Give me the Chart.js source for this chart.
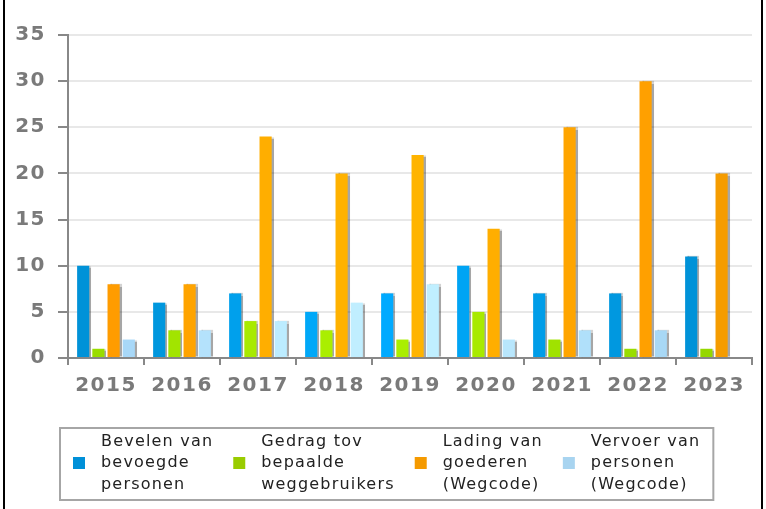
<!DOCTYPE html>
<html>
<head>
<meta charset="utf-8">
<script src="https://cdn.jsdelivr.net/npm/chart.js@4/dist/chart.umd.min.js"></script>
<style>
  html, body { margin: 0; padding: 0; background: #fff; }
  #wrap { position: relative; width: 766px; height: 509px; }
  #frame { position: absolute; left: 3px; top: 0; width: 756px; height: 509px;
           border-left: 2px solid #000; border-right: 2px solid #000; pointer-events: none; }
  canvas { display: block; }
</style>
</head>
<body>
<div id="wrap">
  <canvas id="c" width="766" height="509"></canvas>
  <div id="frame"></div>
</div>
<script>
// ---- data ----
const categories = ['2015', '2016', '2017', '2018', '2019', '2020', '2021', '2022', '2023'];
const bevelen  = [10, 6, 7, 5, 7, 10, 7, 7, 11];
const gedrag   = [1, 3, 4, 3, 2, 5, 2, 1, 1];
const lading   = [8, 8, 24, 20, 22, 14, 25, 30, 20];
const vervoer  = [2, 3, 4, 6, 8, 2, 3, 3, null];
const seriesLabels = [
  ['Bevelen van', 'bevoegde', 'personen'],
  ['Gedrag tov', 'bepaalde', 'weggebruikers'],
  ['Lading van', 'goederen', '(Wegcode)'],
  ['Vervoer van', 'personen', '(Wegcode)']
];
const yMin = 0, yMax = 35, yStep = 5;

// ---- styles ----
const blueShades   = ['#0092d8', '#0097de', '#00a0ec', '#00a8f8', '#00aaff', '#00a4f4', '#009de8', '#0098e0', '#0092d8'];
const greenShades  = ['#99dd00', '#a2e400', '#a8ea00', '#aaee00', '#aaee00', '#a8ea00', '#a0e200', '#99dd00', '#95d800'];
const orangeShades = ['#ff9c00', '#ffa400', '#ffae00', '#ffb200', '#ffb400', '#ffae00', '#ffa500', '#ffa000', '#f59c00'];
const lightShades  = ['#a8d8f8', '#b4e2fc', '#bcecff', '#c0eeff', '#c0efff', '#b8e6fc', '#b0e0fa', '#a8d8f5', '#a8d8f5'];
const legendColors = ['#0090d8', '#99cc00', '#f59a00', '#a8d4f0'];

const PLOT_LEFT = 68, PLOT_RIGHT = 752, PLOT_TOP = 35, PLOT_BOTTOM = 358;
const W = 766, H = 509;
const X_AXIS_H = 42;

const spacingPlugin = {
  id: 'letterSpacing',
  beforeDraw(chart) {
    chart.ctx.letterSpacing = '1.5px';
  }
};

const shadowPlugin = {
  id: 'barShadow',
  beforeDatasetsDraw(chart) {
    const ctx = chart.ctx;
    ctx.save();
    ctx.shadowColor = 'rgba(0,0,0,0.35)';
    ctx.shadowOffsetX = 2;
    ctx.shadowOffsetY = 0;
    ctx.shadowBlur = 1;
  },
  afterDatasetsDraw(chart) {
    chart.ctx.restore();
  }
};

const legendPlugin = {
  id: 'multiLegend',
  afterDraw(chart) {
    const ctx = chart.ctx;
    ctx.save();
    ctx.shadowColor = 'transparent';
    ctx.letterSpacing = '1.2px';
    ctx.font = '16px "DejaVu Sans", Verdana, sans-serif';
    const sw = 12, swGap = 16, itemGap = 20, padL = 13, padR = 13;
    const widths = seriesLabels.map(lines => Math.max(...lines.map(l => ctx.measureText(l).width)));
    const itemW = widths.map(w => sw + swGap + w);
    const total = padL + padR + itemW.reduce((a, b) => a + b, 0) + itemGap * (itemW.length - 1);
    const boxX = Math.round(387 - total / 2), boxY = 428, boxH = 72;
    ctx.strokeStyle = '#a6a6a6';
    ctx.lineWidth = 2;
    ctx.strokeRect(boxX, boxY, total, boxH);
    const lineH = 21.5;
    const midY = boxY + boxH / 2 - 1;
    let x = boxX + padL;
    ctx.textBaseline = 'middle';
    ctx.textAlign = 'left';
    seriesLabels.forEach((lines, i) => {
      ctx.fillStyle = legendColors[i];
      ctx.fillRect(x, midY - sw / 2, sw, sw);
      ctx.fillStyle = '#222';
      const n = lines.length;
      lines.forEach((l, j) => {
        ctx.fillText(l, x + sw + swGap, midY + (j - (n - 1) / 2) * lineH);
      });
      x += itemW[i] + itemGap;
    });
    ctx.restore();
  }
};

const tickFont = { family: '"DejaVu Sans", Verdana, sans-serif', size: 20, weight: 'bold' };

new Chart(document.getElementById('c'), {
  type: 'bar',
  data: {
    labels: categories,
    datasets: [
      { label: seriesLabels[0].join(' '), data: bevelen, backgroundColor: blueShades },
      { label: seriesLabels[1].join(' '), data: gedrag, backgroundColor: greenShades },
      { label: seriesLabels[2].join(' '), data: lading, backgroundColor: orangeShades },
      { label: seriesLabels[3].join(' '), data: vervoer, backgroundColor: lightShades }
    ]
  },
  options: {
    responsive: false,
    animation: false,
    devicePixelRatio: 1,
    layout: { padding: { top: PLOT_TOP, right: W - PLOT_RIGHT, bottom: H - PLOT_BOTTOM - X_AXIS_H, left: 0 } },
    plugins: {
      legend: { display: false },
      tooltip: { enabled: false },
      title: { display: false }
    },
    datasets: { bar: { categoryPercentage: 0.8, barPercentage: 0.8 } },
    scales: {
      x: {
        grid: { offset: true, drawOnChartArea: false, drawTicks: true, tickLength: 7, tickColor: '#888', lineWidth: 2 },
        border: { color: '#888', width: 2 },
        ticks: { color: '#7a7a7a', font: tickFont, padding: 9, maxRotation: 0, autoSkip: false },
        afterFit(scale) { scale.height = X_AXIS_H; }
      },
      y: {
        min: yMin, max: yMax,
        grid: { color: '#e8e8e8', lineWidth: 2, tickLength: 10, tickColor: '#888' },
        border: { color: '#888', width: 2 },
        ticks: { stepSize: yStep, color: '#7a7a7a', font: tickFont, padding: 12 },
        afterFit(scale) { scale.width = PLOT_LEFT; }
      }
    }
  },
  plugins: [spacingPlugin, shadowPlugin, legendPlugin]
});
</script>
</body>
</html>
